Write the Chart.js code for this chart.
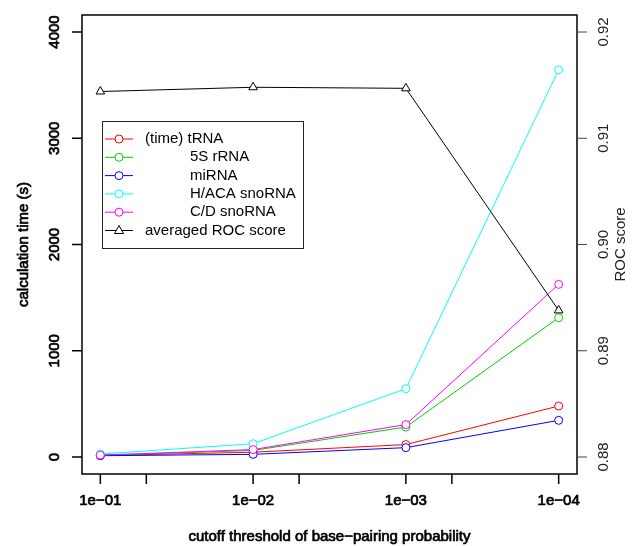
<!DOCTYPE html>
<html>
<head>
<meta charset="utf-8">
<script src="https://cdn.jsdelivr.net/npm/chart.js@4"></script>
<style>
  html, body { margin: 0; padding: 0; background: #fff; }
  canvas { display: block; }
</style>
</head>
<body>
<canvas id="timeChart" width="637" height="546"></canvas>
<script>
// cutoff thresholds (x axis is -log10 of these)
const thresholds = [1e-1, 1e-2, 1e-3, 1e-4];
const thresholdLabels = ['1e\u221201', '1e\u221202', '1e\u221203', '1e\u221204'];
const minorThresholds = [5e-2, 5e-3, 5e-4];

// calculation time (s)
const trna = [14, 45, 117, 480];
const rrna5s = [16, 62, 282, 1311];
const mirna = [12, 25, 88, 345];
const hacaSnorna = [28, 125, 643, 3645];
const cdSnorna = [18, 70, 305, 1625];

// averaged ROC score (right axis)
const rocScore = [0.9144, 0.9148, 0.9147, 0.8938];

const timeTicks = [0, 1000, 2000, 3000, 4000];
const rocTicks = [0.88, 0.89, 0.90, 0.91, 0.92];

const seriesNames = ['(time) tRNA', '5S rRNA', 'miRNA', 'H/ACA snoRNA', 'C/D snoRNA', 'averaged ROC score'];
const seriesColors = ['#ff0000', '#00cd00', '#0000ff', '#00ffff', '#ff00ff', '#000000'];

const xPos = thresholds.map(t => -Math.log10(t));
const toPoints = vals => vals.map((v, i) => ({ x: xPos[i], y: v }));

function timeSet(idx, vals) {
  return {
    label: seriesNames[idx],
    data: toPoints(vals),
    yAxisID: 'y',
    borderColor: seriesColors[idx],
    backgroundColor: '#ffffff',
    borderWidth: 1,
    pointStyle: 'circle',
    pointRadius: 4,
    pointBorderWidth: 1,
    pointBackgroundColor: '#ffffff',
    tension: 0,
    order: 5 - idx
  };
}

const FONT = '15px "Liberation Sans", Arial, sans-serif';

// heavy = overplotted look of the left / bottom axes
function label(ctx, txt, x, y, rotate, heavy) {
  ctx.save();
  ctx.translate(x, y);
  if (rotate) ctx.rotate(-Math.PI / 2);
  ctx.fillText(txt, 0, 0);
  if (heavy) {
    ctx.lineWidth = 0.7;
    ctx.strokeStyle = ctx.fillStyle;
    ctx.strokeText(txt, 0, 0);
  }
  ctx.restore();
}

const axesPlugin = {
  id: 'rAxes',
  afterDraw(chart) {
    const ctx = chart.ctx;
    const a = chart.chartArea;
    const sx = chart.scales.x, sy = chart.scales.y, sr = chart.scales.y1;
    ctx.save();
    // box
    ctx.strokeStyle = '#000';
    ctx.lineWidth = 1.5;
    ctx.strokeRect(a.left, a.top, a.right - a.left, a.bottom - a.top);

    ctx.font = FONT;
    ctx.fillStyle = '#000';
    ctx.textAlign = 'center';
    ctx.textBaseline = 'middle';

    // left axis
    timeTicks.forEach(v => {
      const y = sy.getPixelForValue(v);
      ctx.lineWidth = 1.5;
      ctx.beginPath(); ctx.moveTo(a.left, y); ctx.lineTo(a.left - 10, y); ctx.stroke();
      label(ctx, String(v), a.left - 27, y, true, true);
    });
    label(ctx, 'calculation time (s)', a.left - 58, (a.top + a.bottom) / 2, true, true);

    // bottom axis
    thresholds.concat(minorThresholds).forEach(t => {
      const x = sx.getPixelForValue(-Math.log10(t));
      ctx.lineWidth = 1.5;
      ctx.beginPath(); ctx.moveTo(x, a.bottom); ctx.lineTo(x, a.bottom + 10); ctx.stroke();
    });
    thresholds.forEach((t, i) => {
      const x = sx.getPixelForValue(-Math.log10(t));
      label(ctx, thresholdLabels[i], x, a.bottom + 27, false, true);
    });
    label(ctx, 'cutoff threshold of base\u2212pairing probability',
      (a.left + a.right) / 2, a.bottom + 63, false, true);

    // right axis
    ctx.strokeStyle = '#444';
    ctx.lineWidth = 1;
    ctx.fillStyle = '#222';
    rocTicks.forEach(v => {
      const y = sr.getPixelForValue(v);
      ctx.beginPath(); ctx.moveTo(a.right, y); ctx.lineTo(a.right + 10, y); ctx.stroke();
      label(ctx, v.toFixed(2), a.right + 27, y, true, false);
    });
    label(ctx, 'ROC score', a.right + 44, (a.top + a.bottom) / 2, true, false);
    ctx.restore();
  }
};

const legendPlugin = {
  id: 'rLegend',
  afterDraw(chart) {
    const ctx = chart.ctx;
    const left = 102, top = 121, w = 201, h = 127;
    const rowY = 139, rowH = 18.3;
    ctx.save();
    ctx.strokeStyle = '#222';
    ctx.lineWidth = 1;
    ctx.strokeRect(left + 0.5, top + 0.5, w, h);
    ctx.font = FONT;
    ctx.textAlign = 'left';
    ctx.textBaseline = 'middle';
    seriesNames.forEach((name, i) => {
      const y = rowY + i * rowH;
      ctx.strokeStyle = seriesColors[i];
      ctx.beginPath(); ctx.moveTo(105, y); ctx.lineTo(133, y); ctx.stroke();
      ctx.fillStyle = '#fff';
      ctx.beginPath();
      if (i === 5) {
        ctx.moveTo(119, y - 5); ctx.lineTo(123.5, y + 3); ctx.lineTo(114.5, y + 3); ctx.closePath();
      } else {
        ctx.arc(119, y, 4, 0, Math.PI * 2);
      }
      ctx.fill(); ctx.stroke();
      ctx.fillStyle = '#000';
      const indent = (i === 0 || i === 5) ? 145 : 190;
      ctx.fillText(name, indent, y);
    });
    ctx.restore();
  }
};

new Chart(document.getElementById('timeChart').getContext('2d'), {
  type: 'line',
  data: {
    datasets: [
      timeSet(0, trna),
      timeSet(1, rrna5s),
      timeSet(2, mirna),
      timeSet(3, hacaSnorna),
      timeSet(4, cdSnorna),
      {
        label: seriesNames[5],
        data: toPoints(rocScore),
        yAxisID: 'y1',
        borderColor: '#000',
        borderWidth: 1,
        pointStyle: 'triangle',
        pointRadius: 5,
        pointBorderWidth: 1,
        pointBackgroundColor: '#ffffff',
        tension: 0,
        order: 0
      }
    ]
  },
  options: {
    responsive: false,
    animation: false,
    devicePixelRatio: 1,
    layout: { padding: { left: 82, right: 60, top: 15, bottom: 72 } },
    scales: {
      x: { type: 'linear', min: 0.88, max: 4.12, display: false },
      y: { type: 'linear', min: -160, max: 4160, display: false },
      y1: { type: 'linear', min: 0.8784, max: 0.9216, display: false }
    },
    plugins: {
      legend: { display: false },
      tooltip: { enabled: false }
    }
  },
  plugins: [axesPlugin, legendPlugin]
});
</script>
</body>
</html>
